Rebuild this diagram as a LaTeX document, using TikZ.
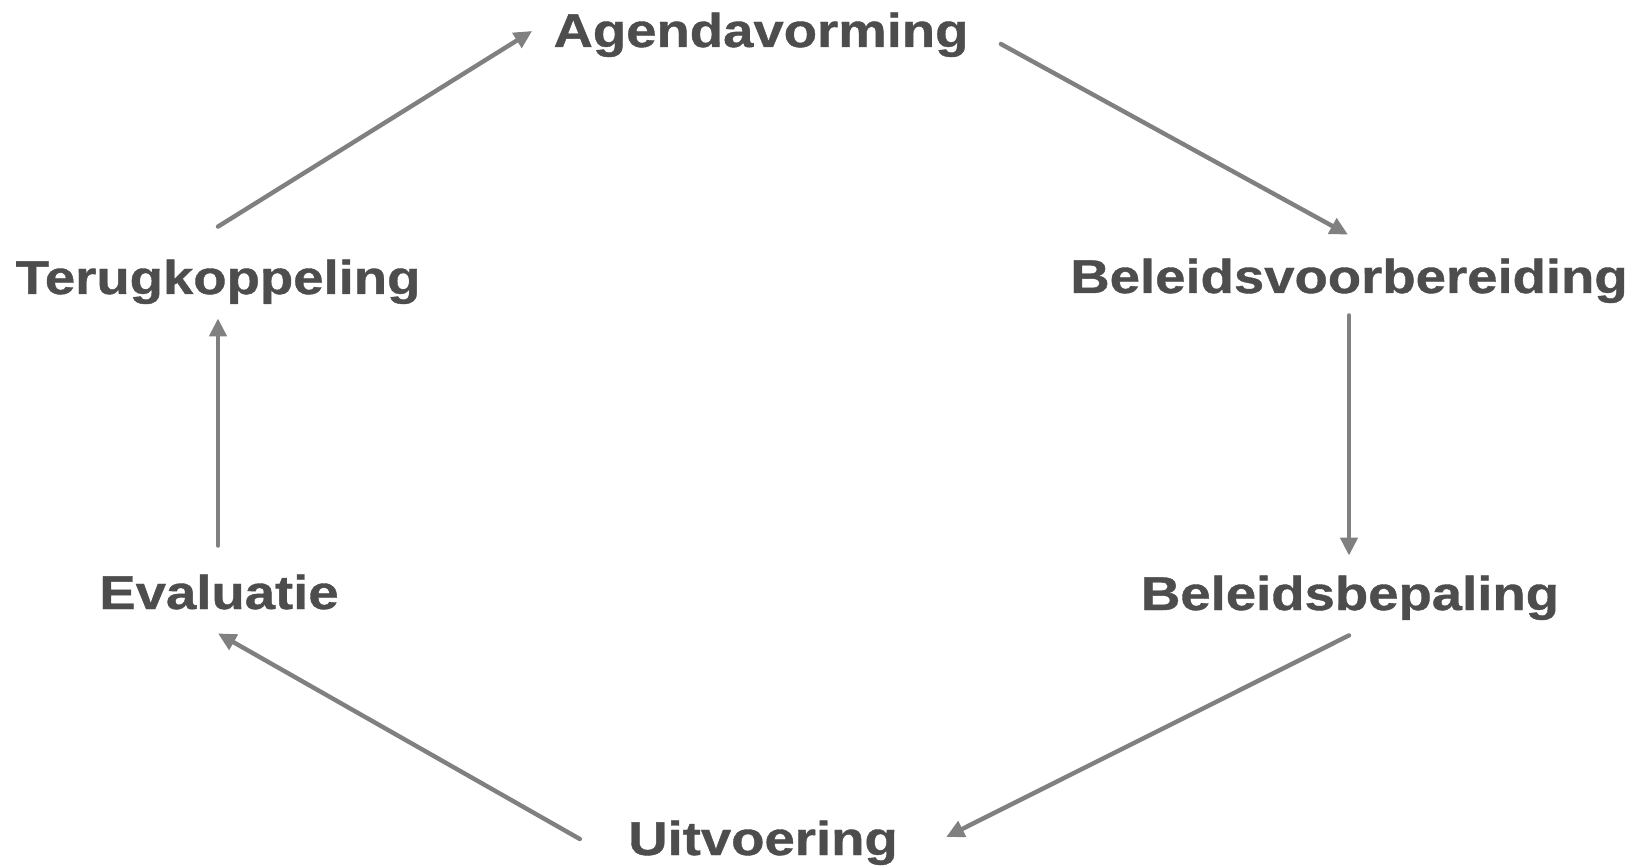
\documentclass[tikz,border=0pt]{standalone}
\usepackage{fontspec}
\newfontfamily\stagefont[FakeStretch=1.15, BoldFeatures={FakeBold=0.8}]{Liberation Sans}
\usetikzlibrary{arrows.meta}
\definecolor{stagetext}{HTML}{4D4D4D}
\definecolor{flowgray}{HTML}{808080}

\begin{document}
\begin{tikzpicture}[x=0.5pt, y=-0.5pt]
    \tikzstyle{stage} = [anchor=base, inner sep=0pt, text height=17pt, text depth=5pt, text=stagetext, font=\stagefont\bfseries\fontsize{23.7}{26}\selectfont]
    \tikzstyle{arrow} = [draw=flowgray, line width=2.2pt, line cap=round, -{Triangle[length=9pt, width=8.5pt]}]

    \useasboundingbox (0,0) rectangle (1645,866);

    \node (agenda) [stage] at (761,47) {Agendavorming};
    \node (voorb) [stage] at (1349,293) {Beleidsvoorbereiding};
    \node (bepal) [stage] at (1350,610) {Beleidsbepaling};
    \node (uitv) [stage] at (763,855) {Uitvoering};
    \node (eval) [stage] at (219,609) {Evaluatie};
    \node (terug) [stage] at (218,294) {Terugkoppeling};

    % Arrows
    \draw [arrow] ([shift={(0,-33)}]terug.north) -- ([shift={(-21,-4)}]agenda.west);
    \draw [arrow] ([shift={(32,9)}]agenda.east) -- ([shift={(-1,-24)}]voorb.north);
    \draw [arrow] ([shift={(0,12)}]voorb.south) -- ([shift={(-1,-20)}]bepal.north);
    \draw [arrow] ([shift={(-1,15)}]bepal.south) -- ([shift={(48,-6)}]uitv.east);
    \draw [arrow] ([shift={(-48,-4)}]uitv.west) -- ([shift={(-1,14)}]eval.south);
    \draw [arrow] ([shift={(-1,-29)}]eval.north) -- ([shift={(0,14)}]terug.south);
\end{tikzpicture}
\end{document}
